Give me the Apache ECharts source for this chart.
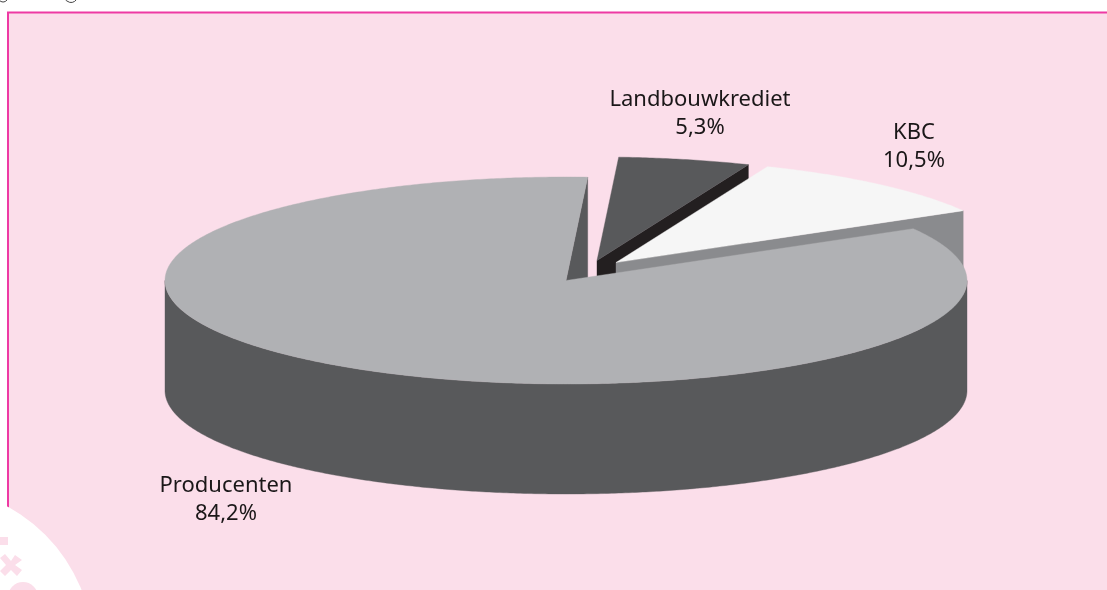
<!DOCTYPE html>
<html><head><meta charset="utf-8">
<style>html,body{margin:0;padding:0;background:#fff}#c{width:1107px;height:590px}</style>
<script src="https://cdn.jsdelivr.net/npm/echarts@6/dist/echarts.min.js"></script>
</head><body><div id="c"></div>
<script>
// Data (drawn back to front)
const categories = ['Landbouwkrediet', 'KBC', 'Producenten'];
const shares = [5.3, 10.5, 84.2];
const shareLabels = ['5,3%', '10,5%', '84,2%'];

// Style / layout
const topColors = ['#58595b', '#f6f6f6', '#b0b1b4'];
const sideColors = ['#231f20', '#8a8b8e', '#58595b'];
const explode = [[31, -20], [50, -18], [0, 0]];
const labelAnchors = [[700, 112], [914, 145], [226, 498]];
const START = 3.1, CX = 566, CY = 280.5, RX = 401, RY = 103.5, DEPTH = 110;
const FONT = '"Noto Sans"';

const total = shares.reduce((a, b) => a + b, 0);
const rad = d => d * Math.PI / 180;
function rim(a, o, dz) {
  return [CX + o[0] + RX * Math.sin(rad(a)), CY + o[1] + dz - RY * Math.cos(rad(a))];
}
function arcPts(a0, a1, o, dz) {
  const n = Math.max(2, Math.ceil(Math.abs(a1 - a0) * 2)), p = [];
  for (let i = 0; i <= n; i++) p.push(rim(a0 + (a1 - a0) * i / n, o, dz));
  return p;
}
function renderItem(params, api) {
  const i = params.dataIndex;
  let a0 = START;
  for (let k = 0; k < i; k++) a0 += shares[k] / total * 360;
  const a1 = a0 + api.value(1) / total * 360;
  const o = explode[i], apex = [CX + o[0], CY + o[1]], ch = [];
  const poly = (points, fill) => ch.push({
    type: 'polygon', shape: { points },
    style: { fill, stroke: fill, lineWidth: 0.4 }, silent: true
  });
  const radial = a => {
    const r = rim(a, o, 0), rb = rim(a, o, DEPTH);
    poly([apex, r, rb, [apex[0], apex[1] + DEPTH]], sideColors[i]);
  };
  // radial cut faces turned towards the viewer
  if (Math.sin(rad(a1)) > 0) radial(a1);
  if (Math.sin(rad(a0)) < 0) radial(a0);
  // outer wall: the front half of the rim (90..270 degrees)
  const w0 = Math.max(a0, 90), w1 = Math.min(a1, 270);
  if (w1 > w0) poly(arcPts(w0, w1, o, 0).concat(arcPts(w1, w0, o, DEPTH)), sideColors[i]);
  // top face
  poly([apex].concat(arcPts(a0, a1, o, 0)), topColors[i]);
  // label
  ch.push({
    type: 'text', x: labelAnchors[i][0], y: labelAnchors[i][1] + 1.5, silent: true,
    style: {
      text: api.value(0) + '\n' + shareLabels[i], fill: '#1a1718',
      font: '22px ' + FONT, lineHeight: 28, align: 'center', verticalAlign: 'middle'
    }
  });
  return { type: 'group', children: ch };
}
const chart = echarts.init(document.getElementById('c'), null, { renderer: 'canvas' });
const pink = '#fbdeea', line = '#ee3aa4';
chart.setOption({
  animation: false,
  backgroundColor: '#ffffff',
  graphic: [
    { type: 'rect', z: 0, shape: { x: 8, y: 12, width: 1110, height: 590 }, style: { fill: pink } },
    { type: 'line', z: 0, shape: { x1: 7, y1: 12.5, x2: 1107, y2: 12.5 }, style: { stroke: line, lineWidth: 2 } },
    { type: 'line', z: 0, shape: { x1: 8, y1: 12, x2: 8, y2: 520 }, style: { stroke: line, lineWidth: 2 } },
    { type: 'circle', z: 0, shape: { cx: -70, cy: 650, r: 163 }, style: { fill: '#fff' } },
    { type: 'rect', z: 0, shape: { x: 0, y: 537, width: 8, height: 8 }, style: { fill: pink } },
    { type: 'polygon', z: 0, shape: { points: [[0,558],[5,554],[11,561],[15,555],[22,560],[15,565],[22,570],[17,576],[11,570],[5,576],[0,571],[6,565]] }, style: { fill: pink } },
    { type: 'circle', z: 0, shape: { cx: 23, cy: 597, r: 15 }, style: { fill: pink } },
    { type: 'arc', z: 0, shape: { cx: 3, cy: -3, r: 5, startAngle: 0.2, endAngle: 2.9 }, style: { stroke: '#444', lineWidth: 1, fill: 'none' } },
    { type: 'arc', z: 0, shape: { cx: 71, cy: -4, r: 6.5, startAngle: 0.2, endAngle: 2.9 }, style: { stroke: '#444', lineWidth: 1, fill: 'none' } }
  ],
  series: [{
    type: 'custom', coordinateSystem: 'none', renderItem, silent: true,
    data: categories.map((c, i) => [c, shares[i]]),
    encode: { itemName: 0, value: 1 }
  }]
});
</script></body></html>
